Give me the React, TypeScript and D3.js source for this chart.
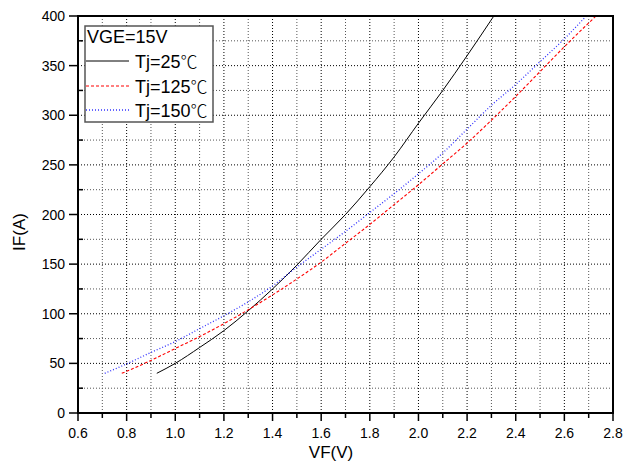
import React from "react";
import * as d3 from "d3";

const vfTicks = [0.6, 0.8, 1.0, 1.2, 1.4, 1.6, 1.8, 2.0, 2.2, 2.4, 2.6, 2.8];
const ifTicks = [0, 50, 100, 150, 200, 250, 300, 350, 400];

const vf25 = [0.924, 1.0, 1.1, 1.2, 1.3, 1.4, 1.5, 1.6, 1.7, 1.8, 1.9, 2.0, 2.1, 2.2, 2.31];
const if25 = [40, 50, 66, 83, 103, 125, 149, 175, 200, 228, 258, 292, 325, 360, 400];

const vf125 = [0.78, 0.8, 0.9, 1.0, 1.1, 1.2, 1.3, 1.4, 1.5, 1.6, 1.7, 1.8, 1.9, 2.0, 2.1, 2.2, 2.3, 2.4, 2.5, 2.6, 2.73];
const if125 = [40, 42, 53, 65, 77, 90, 104, 119, 135, 152, 171, 190, 210, 230, 251, 272, 295, 319, 344, 369, 400];

const vf150 = [0.71, 0.8, 0.9, 1.0, 1.1, 1.2, 1.3, 1.4, 1.5, 1.6, 1.7, 1.8, 1.9, 2.0, 2.1, 2.2, 2.3, 2.4, 2.5, 2.6, 2.69];
const if150 = [40, 49.5, 61, 72, 85, 98, 112, 128, 147, 165, 183, 202, 221, 241, 262, 286, 310, 331, 354, 377, 400];

const seriesNames = ["Tj=25", "Tj=125", "Tj=150"];
const unit = "℃";
const legendTitle = "VGE=15V";

const W = 623;
const H = 464;
const L = 78, R = 613, T = 16, B = 413;
const FONT = "Arial, 'Liberation Sans', Helvetica, sans-serif";
const CJK = "'Noto Sans CJK SC', 'Noto Sans CJK JP', sans-serif";

export default function App() {
  const x = d3.scaleLinear().domain([0.6, 2.8]).range([L, R]);
  const y = d3.scaleLinear().domain([0, 400]).range([B, T]);

  const xMinor = d3.range(0.7, 2.8, 0.2).map((v) => +v.toFixed(2));
  const yMinor = d3.range(25, 400, 50);

  const line = d3
    .line<[number, number]>()
    .x((d) => x(d[0]))
    .y((d) => y(d[1]))
    .curve(d3.curveMonotoneX);

  const series = [
    { xs: vf25, ys: if25, color: "#000", dash: undefined, width: 1 },
    { xs: vf125, ys: if125, color: "#ff0000", dash: "3,2", width: 1.1 },
    { xs: vf150, ys: if150, color: "#3333ff", dash: "1,2", width: 1.3 },
  ];

  const legendRows = [61, 86, 110];
  const legendText = [68, 93, 117];

  return (
    <svg
      width={W}
      height={H}
      style={{ position: "absolute", left: 0, top: 0, background: "#fff" }}
      fontFamily={FONT}
    >
      <rect x={0} y={0} width={W} height={H} fill="#fff" />
      <defs>
        <clipPath id="plot">
          <rect x={L} y={T} width={R - L} height={B - T} />
        </clipPath>
      </defs>
      {/* grid */}
      {vfTicks.slice(1, -1).map((v) => (
        <line key={"gx" + v} x1={x(v)} x2={x(v)} y1={T} y2={B} stroke="#000" strokeWidth={1} strokeDasharray="1,2" />
      ))}
      {xMinor.map((v) => (
        <line key={"gxm" + v} x1={x(v)} x2={x(v)} y1={T} y2={B} stroke="#555" strokeWidth={1} strokeDasharray="1,2" />
      ))}
      {ifTicks.slice(1, -1).map((v) => (
        <line key={"gy" + v} x1={L} x2={R} y1={y(v)} y2={y(v)} stroke="#000" strokeWidth={1} strokeDasharray="1,2" />
      ))}
      {yMinor.map((v) => (
        <line key={"gym" + v} x1={L} x2={R} y1={y(v)} y2={y(v)} stroke="#555" strokeWidth={1} strokeDasharray="1,2" />
      ))}

      {/* curves */}
      <g clipPath="url(#plot)">
        {series.map((s, i) => (
          <path
            key={i}
            d={line(s.xs.map((v, j) => [v, s.ys[j]] as [number, number])) || ""}
            fill="none"
            stroke={s.color}
            strokeWidth={s.width}
            strokeDasharray={s.dash}
          />
        ))}
      </g>

      {/* frame */}
      <rect x={L} y={T} width={R - L} height={B - T} fill="none" stroke="#000" strokeWidth={2} />

      {/* x ticks */}
      {vfTicks.map((v) => (
        <g key={"xt" + v}>
          <line x1={x(v)} x2={x(v)} y1={B} y2={B + 8} stroke="#000" strokeWidth={1.5} />
          <text x={x(v)} y={438} fontSize={14} textAnchor="middle" fill="#000">
            {v.toFixed(1)}
          </text>
        </g>
      ))}
      {xMinor.map((v) => (
        <line key={"xm" + v} x1={x(v)} x2={x(v)} y1={B} y2={B + 5} stroke="#000" strokeWidth={1.5} />
      ))}

      {/* y ticks */}
      {ifTicks.map((v) => (
        <g key={"yt" + v}>
          <line x1={L - 9} x2={L} y1={y(v)} y2={y(v)} stroke="#000" strokeWidth={1.5} />
          <text x={65} y={y(v) + 5} fontSize={14} textAnchor="end" fill="#000">
            {v}
          </text>
        </g>
      ))}
      {yMinor.map((v) => (
        <line key={"ym" + v} x1={L} x2={L + 5} y1={y(v)} y2={y(v)} stroke="#000" strokeWidth={1.5} />
      ))}

      {/* axis titles */}
      <text x={331} y={458} fontSize={17} textAnchor="middle" fill="#000">
        VF(V)
      </text>
      <text
        transform={`translate(25,232) rotate(-90)`}
        fontSize={17}
        textAnchor="middle"
        fill="#000"
      >
        IF(A)
      </text>

      {/* legend */}
      <rect x={85} y={26} width={128} height={96} fill="#fff" stroke="#555" strokeWidth={1.5} />
      <text x={87} y={43} fontSize={18} fill="#000">
        {legendTitle}
      </text>
      {series.map((s, i) => (
        <g key={"lg" + i}>
          <line
            x1={86}
            x2={129}
            y1={legendRows[i]}
            y2={legendRows[i]}
            stroke={s.color}
            strokeWidth={s.width}
            strokeDasharray={s.dash}
          />
          <text x={135} y={legendText[i]} fontSize={18} fill="#000">
            {seriesNames[i]}
            <tspan fontFamily={CJK} fontWeight={300} fontSize={17}>
              {unit}
            </tspan>
          </text>
        </g>
      ))}
    </svg>
  );
}
